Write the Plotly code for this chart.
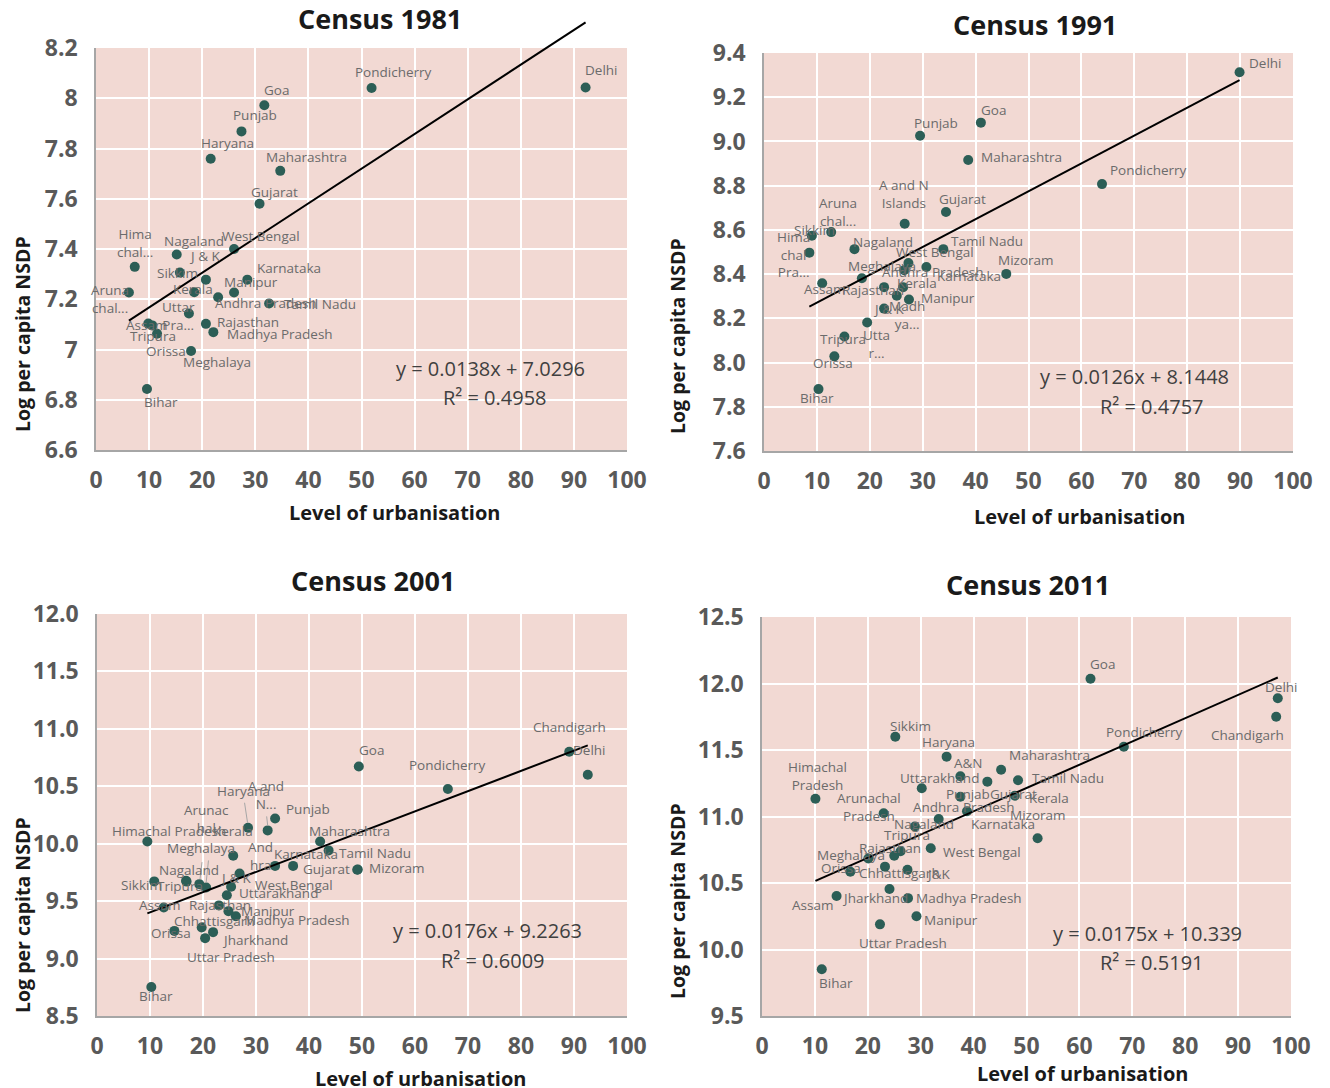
import plotly.graph_objects as go

W, H = 1330, 1088

# ---------------- data ----------------
years = ["1981", "1991", "2001", "2011"]

labels_1981 = ["Delhi", "Pondicherry", "Goa", "Punjab", "Haryana", "Maharashtra", "Gujarat",
               "Hima<br>chal...", "Aruna<br>chal...", "Nagaland", "Sikkim", "West Bengal", "J & K",
               "Karnataka", "Manipur", "Kerala", "Andhra Pradesh", "Tamil Nadu", "Uttar<br>Pra...",
               "Assam", "Tripura", "Orissa", "Rajasthan", "Madhya Pradesh", "Meghalaya", "Bihar"]
urban_1981 = [92.2, 51.9, 31.7, 27.4, 21.6, 34.7, 30.8, 7.3, 6.2, 15.2, 15.8, 26.0, 20.7,
              28.5, 26.0, 18.5, 23.0, 32.6, 17.5, 9.85, 10.6, 11.5, 20.7, 22.1, 17.9, 9.6]
nsdp_1981 = [8.043, 8.041, 7.972, 7.868, 7.759, 7.711, 7.580, 7.329, 7.227, 7.378, 7.306, 7.400, 7.278,
             7.278, 7.227, 7.228, 7.208, 7.183, 7.143, 7.103, 7.096, 7.063, 7.102, 7.069, 6.994, 6.843]

labels_1991 = ["Delhi", "Goa", "Punjab", "Maharashtra", "Pondicherry", "A and N<br>Islands", "Gujarat",
               "Aruna<br>chal...", "Sikkim", "Hima<br>chal<br>Pra...", "Nagaland", "Tamil Nadu",
               "West Bengal", "Karnataka", "Andhra Pradesh", "Mizoram", "Meghalaya", "Assam",
               "Rajasthan", "Kerala", "Madh<br>ya...", "Manipur", "J & K", "Utta<br>r...", "Tripura",
               "Orissa", "Bihar"]
urban_1991 = [89.9, 41.0, 29.5, 38.6, 63.9, 26.6, 34.4, 12.7, 9.05, 8.57, 17.1, 33.9, 27.3, 30.7,
              26.5, 45.8, 18.5, 11.0, 22.7, 26.3, 25.1, 27.4, 22.7, 19.5, 15.2, 13.3, 10.3]
nsdp_1991 = [9.313, 9.085, 9.026, 8.916, 8.807, 8.628, 8.681, 8.590, 8.574, 8.497, 8.513, 8.513,
             8.450, 8.432, 8.418, 8.401, 8.381, 8.359, 8.341, 8.341, 8.302, 8.285, 8.244, 8.181,
             8.118, 8.028, 7.880]

labels_2001 = ["Chandigarh", "Delhi", "Goa", "Pondicherry", "Punjab", "Haryana", "A and<br>N...",
               "Himachal Pradesh", "Maharashtra", "Tamil Nadu", "Kerala", "And<br>hra", "Karnataka",
               "Mizoram", "Gujarat", "J & K", "Sikkim", "Nagaland", "Tripura", "Arunac<br>hal",
               "Meghalaya", "West Bengal", "Uttarakhand", "Assam", "Rajasthan", "Manipur",
               "Madhya Pradesh", "Orissa", "Chhattisgarh", "Jharkhand", "Uttar Pradesh", "Bihar"]
urban_2001 = [89.1, 92.6, 49.4, 66.2, 33.6, 28.5, 32.2, 9.5, 42.1, 43.7, 25.7, 33.6, 37.0, 49.2,
              49.1, 26.9, 10.8, 16.8, 16.9, 19.3, 20.6, 25.3, 24.5, 12.6, 23.0, 24.8, 26.2, 14.6,
              19.75, 21.9, 20.4, 10.25]
nsdp_2001 = [10.80, 10.60, 10.672, 10.476, 10.22, 10.139, 10.116, 10.02, 10.02, 9.942, 9.895,
             9.807, 9.807, 9.776, 9.774, 9.741, 9.672, 9.677, 9.670, 9.648, 9.619, 9.625, 9.552,
             9.445, 9.463, 9.413, 9.369, 9.241, 9.271, 9.23, 9.178, 8.753]

labels_2011 = ["Goa", "Delhi", "Chandigarh", "Pondicherry", "Sikkim", "Haryana", "Maharashtra", "A&N",
               "Tamil Nadu", "Gujarat", "Uttarakhand", "Punjab", "Kerala", "Himachal<br>Pradesh",
               "Karnataka", "Andhra Pradesh", "Arunachal<br>Pradesh", "Nagaland", "Mizoram",
               "West Bengal", "Tripura", "Rajasthan", "Meghalaya", "Chhattisgarh", "J&K", "Orissa",
               "Jharkhand", "Assam", "Madhya Pradesh", "Manipur", "Uttar Pradesh", "Bihar"]
urban_2011 = [62.1, 97.5, 97.2, 68.4, 25.2, 34.9, 45.2, 37.5, 48.4, 42.6, 30.2, 37.5, 47.8, 10.1,
              38.75, 33.4, 23.0, 28.9, 52.1, 31.9, 26.2, 25.0, 20.1, 23.25, 27.5, 16.7, 24.1, 14.1,
              27.6, 29.2, 22.3, 11.3]
nsdp_2011 = [12.036, 11.889, 11.75, 11.525, 11.60, 11.45, 11.351, 11.302, 11.273, 11.262, 11.212,
             11.149, 11.156, 11.134, 11.04, 10.981, 11.024, 10.925, 10.836, 10.761, 10.739, 10.705,
             10.684, 10.623, 10.60, 10.585, 10.455, 10.402, 10.386, 10.25, 10.189, 9.851]

# linear trend lines: y = slope * x + intercept
slopes = [0.0138, 0.0126, 0.0176, 0.0175]
intercepts = [7.0296, 8.1448, 9.2263, 10.339]
r_squared = [0.4958, 0.4757, 0.6009, 0.5191]

x_ticks = [0, 10, 20, 30, 40, 50, 60, 70, 80, 90, 100]
y_ticks_1981 = [6.6, 6.8, 7.0, 7.2, 7.4, 7.6, 7.8, 8.0, 8.2]
y_text_1981 = ["6.6", "6.8", "7", "7.2", "7.4", "7.6", "7.8", "8", "8.2"]
y_ticks_1991 = [7.6, 7.8, 8.0, 8.2, 8.4, 8.6, 8.8, 9.0, 9.2, 9.4]
y_text_1991 = ["7.6", "7.8", "8.0", "8.2", "8.4", "8.6", "8.8", "9.0", "9.2", "9.4"]
y_ticks_2001 = [8.5, 9.0, 9.5, 10.0, 10.5, 11.0, 11.5, 12.0]
y_text_2001 = ["8.5", "9.0", "9.5", "10.0", "10.5", "11.0", "11.5", "12.0"]
y_ticks_2011 = [9.5, 10.0, 10.5, 11.0, 11.5, 12.0, 12.5]
y_text_2011 = ["9.5", "10.0", "10.5", "11.0", "11.5", "12.0", "12.5"]

x_title = "Level of urbanisation"
y_title = "Log per capita NSDP"

# ---------------- label placement (pixel offsets of label centre from its point, y up) ----------------
offsets_1981 = [(15, 17), (22, 16), (12, 15), (14, 16), (17, 16), (26, 14), (15, 12), (0, 24), (-19, -7),
                (17, 14), (-2, 0), (27, 13), (-1, 24), (42, 12), (17, 10), (-1, 3), (48, -6), (51, 0),
                (-10, -2), (-2, -1), (1, -11), (9, -17), (42, 2), (67, -2), (26, -11), (14, -13)]
offsets_1991 = [(25, 9), (13, 13), (16, 13), (53, 3), (46, 14), (-1, 30), (17, 13), (7, 20), (3, 6),
                (-16, -2), (29, 7), (44, 8), (27, 11), (43, -9), (29, -2), (20, 14), (20, 12), (2, -6),
                (-11, -3), (14, 4), (10, -19), (39, 2), (4, 0), (9, -21), (-1, -3), (-1, -7), (-1, -9)]
offsets_2001 = [(0, 25), (1, 25), (13, 17), (0, 24), (33, 9), (-5, 37), (-2, 35), (22, 10), (29, 10),
                (46, -3), (0, 25), (-15, 10), (13, 12), (39, 1), (-31, 1), (-4, -5), (-13, -4), (3, 11),
                (-7, -4), (7, 65), (-5, 39), (63, 2), (52, 2), (-4, 2), (1, 0), (40, 0), (61, -4),
                (-3, -2), (13, 6), (42, -8), (26, -19), (5, -9)]
offsets_2011 = [(12, 15), (3, 11), (-29, -18), (21, 15), (15, 11), (2, 15), (48, 15), (8, 13), (50, 2),
                (26, -12), (18, 10), (8, 3), (34, -2), (2, 23), (36, -13), (25, 12), (-15, 6), (9, 2),
                (0, 23), (51, -4), (6, 16), (-4, 8), (-17, 4), (15, -6), (31, -4), (-9, 4), (-14, -9),
                (-24, -9), (61, 0), (35, -4), (23, -19), (14, -14)]
# leader lines for displaced 2001 labels: index -> (x0, y0, x1, y1) pixel offsets from the point
leaders_2001 = {5: (-3.5, 25, -0.5, 5), 6: (-1, 14, 0, 5), 19: (2.7, 22, 0.7, 5), 20: (2.3, 27, 0, 5)}

# ---------------- styling ----------------
FONT = "Open Sans"
BG = "#f2d9d3"
DOT = "#2c5e56"
LABEL = "#6b6b6b"
TICK = "#595959"

# plot frames in pixels: left, right, top, bottom
frames = [(96, 627, 48, 450), (764, 1293, 53, 451), (97, 627, 614, 1016), (762, 1291, 617, 1016)]
y_ranges = [(6.6, 8.2), (7.6, 9.4), (8.5, 12.0), (9.5, 12.5)]
title_pos = [(380, 18), (1035, 25), (373, 580), (1028, 584)]
xtitle_pos = [(394, 513), (1079, 516), (421, 1078), (1082, 1073)]
ytitle_pos = [(22, 334), (677, 336), (22, 915), (677, 901)]
eq_pos = [((491, 369), (495, 397)), ((1134, 377), (1152, 406)),
          ((487, 930), (493, 960)), ((1147, 933), (1152, 962))]


def px(x):
    return x / W


def py(y):
    return 1 - y / H


panels = [
    (labels_1981, urban_1981, nsdp_1981, offsets_1981, y_ticks_1981, y_text_1981, {}),
    (labels_1991, urban_1991, nsdp_1991, offsets_1991, y_ticks_1991, y_text_1991, {}),
    (labels_2001, urban_2001, nsdp_2001, offsets_2001, y_ticks_2001, y_text_2001, leaders_2001),
    (labels_2011, urban_2011, nsdp_2011, offsets_2011, y_ticks_2011, y_text_2011, {}),
]

fig = go.Figure()
layout = dict(
    template="none",
    width=W, height=H, margin=dict(l=0, r=0, t=0, b=0, autoexpand=False),
    paper_bgcolor="white", plot_bgcolor=BG, showlegend=False,
    font=dict(family=FONT),
)
annotations = []
shapes = []

for i, (labels, ux, ny, offs, ytv, ytt, leaders) in enumerate(panels):
    n = i + 1
    suffix = "" if n == 1 else str(n)
    xname, yname = "x" + suffix, "y" + suffix
    l, r, t, b = frames[i]
    lo, hi = y_ranges[i]

    axis_common = dict(
        showgrid=True, gridcolor="white", gridwidth=2,
        showline=True, linecolor="#a6a6a6", linewidth=1.5,
        zeroline=False, ticks="", fixedrange=True, automargin=False,
        tickfont=dict(family=FONT, size=23, color=TICK, weight="bold"),
    )
    layout["xaxis" + suffix] = dict(axis_common, domain=[px(l), px(r)], range=[0, 100],
                                    tickvals=x_ticks, anchor=yname, ticklabelstandoff=9)
    layout["yaxis" + suffix] = dict(axis_common, domain=[py(b), py(t)], range=[lo, hi],
                                    tickvals=ytv, ticktext=ytt, anchor=xname, ticklabelstandoff=12)

    fig.add_trace(go.Scatter(
        x=ux, y=ny, mode="markers", xaxis=xname, yaxis=yname,
        marker=dict(size=10, color=DOT, line=dict(width=0)), hoverinfo="skip", cliponaxis=False,
    ))

    # trend line across the observed urbanisation range
    x0, x1 = min(ux), max(ux)
    y0 = slopes[i] * x0 + intercepts[i]
    y1 = slopes[i] * x1 + intercepts[i]
    shapes.append(dict(type="line", xref=xname, yref=yname + " domain",
                       x0=x0, x1=x1, y0=(y0 - lo) / (hi - lo), y1=(y1 - lo) / (hi - lo),
                       line=dict(color="black", width=2)))

    # data labels
    for k, (txt, xv, yv) in enumerate(zip(labels, ux, ny)):
        dx, dy = offs[k]
        annotations.append(dict(x=xv, y=yv, xref=xname, yref=yname, text=txt, showarrow=False,
                                xshift=dx, yshift=dy, xanchor="center", yanchor="middle",
                                font=dict(family=FONT, size=13.5, color=LABEL)))
        if k in leaders:
            a0, b0, a1, b1 = leaders[k]
            shapes.append(dict(type="line", xref=xname, yref=yname,
                               xsizemode="pixel", ysizemode="pixel", xanchor=xv, yanchor=yv,
                               x0=a0, y0=b0, x1=a1, y1=b1,
                               line=dict(color="#a6a6a6", width=1)))

    # titles
    tx, ty = title_pos[i]
    annotations.append(dict(x=px(tx), y=py(ty), xref="paper", yref="paper", text="Census " + years[i],
                            showarrow=False, xanchor="center", yanchor="middle",
                            font=dict(family=FONT, size=27, color="#1a1a1a", weight="bold")))
    tx, ty = xtitle_pos[i]
    annotations.append(dict(x=px(tx), y=py(ty), xref="paper", yref="paper", text=x_title,
                            showarrow=False, xanchor="center", yanchor="middle",
                            font=dict(family=FONT, size=20, color="#1a1a1a", weight="bold")))
    tx, ty = ytitle_pos[i]
    annotations.append(dict(x=px(tx), y=py(ty), xref="paper", yref="paper", text=y_title,
                            showarrow=False, xanchor="center", yanchor="middle", textangle=-90,
                            font=dict(family=FONT, size=19.5, color="#1a1a1a", weight="bold")))

    # regression equation
    (ex, ey), (rx, ry) = eq_pos[i]
    annotations.append(dict(x=px(ex), y=py(ey), xref="paper", yref="paper",
                            text=f"y = {slopes[i]}x + {intercepts[i]}", showarrow=False,
                            xanchor="center", yanchor="middle",
                            font=dict(family=FONT, size=20, color="#404040")))
    annotations.append(dict(x=px(rx), y=py(ry), xref="paper", yref="paper",
                            text=f"R² = {r_squared[i]}", showarrow=False,
                            xanchor="center", yanchor="middle",
                            font=dict(family=FONT, size=20, color="#404040")))

layout["annotations"] = annotations
layout["shapes"] = shapes
fig.update_layout(**layout)
fig.write_html("out.html")
